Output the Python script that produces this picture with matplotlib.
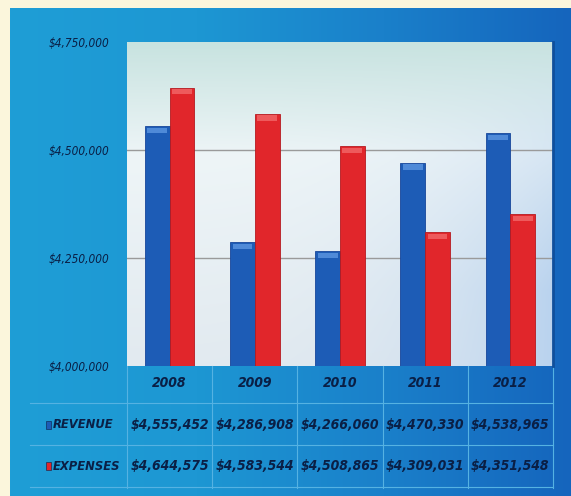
import numpy as np
import matplotlib.pyplot as plt
import matplotlib.transforms as mtransforms
from matplotlib.colors import LinearSegmentedColormap, to_rgb
from matplotlib.patches import Rectangle
from matplotlib.lines import Line2D
from matplotlib.ticker import FuncFormatter

years = ['2008', '2009', '2010', '2011', '2012']
revenue = [4555452, 4286908, 4266060, 4470330, 4538965]
expenses = [4644575, 4583544, 4508865, 4309031, 4351548]
series_names = ['REVENUE', 'EXPENSES']
yticks = [4000000, 4250000, 4500000, 4750000]

plt.rcParams['font.family'] = ['DejaVu Sans']
plt.rcParams['font.stretch'] = 'condensed'

W, H = 571, 496
fig = plt.figure(figsize=(W / 100, H / 100), dpi=100)
fig.patch.set_facecolor('#fbf6dc')

# blue panel behind everything
bg = fig.add_axes([10 / W, 0, 1 - 10 / W, 1 - 8 / H])
cmap_bg = LinearSegmentedColormap.from_list('bg', ['#1f9ed6', '#1d97d3', '#1a80ca', '#1565bd'])
bg.imshow(np.linspace(0, 1, 256)[None, :], aspect='auto', cmap=cmap_bg, extent=[0, 1, 0, 1])
bg.axis('off')

ax = fig.add_axes([127 / W, 130 / H, 426 / W, 324 / H])
x = np.arange(len(years))
w = 0.29

# plot-area gradient: teal at top, pale in the middle, bluish towards the right
ny, nx = 200, 200
t = np.linspace(0, 1, ny)[:, None]
s = np.linspace(0, 1, nx)[None, :]
top = np.array(to_rgb('#c8e3e0'))
mid = np.array(to_rgb('#eef5f7'))
bot = np.array(to_rgb('#e2eaf0'))
blue = np.array(to_rgb('#b5d0ee'))
k1 = np.clip(t / 0.35, 0, 1)[..., None]
k2 = np.clip((t - 0.35) / 0.65, 0, 1)[..., None]
img = np.where(t[..., None] < 0.35, top * (1 - k1) + mid * k1, mid * (1 - k2) + bot * k2)
img = np.broadcast_to(img, (ny, nx, 3)).copy()
kr = (s ** 3)[..., None] * np.clip(t * 1.3, 0, 1)[..., None] * 0.9
img = img * (1 - kr) + blue * kr
ax.imshow(img, extent=[-0.5, 4.5, 4.0e6, 4.75e6], aspect='auto', zorder=0, origin='upper')

for yv in [4250000, 4500000]:
    ax.axhline(yv, color='#9a9a9a', lw=1, zorder=1)

ax.bar(x - w / 2, revenue, w, color='#1d5cb6', edgecolor='#17469a', lw=0.6, zorder=2)
ax.bar(x + w / 2, expenses, w, color='#e1262b', edgecolor='#b51a20', lw=0.6, zorder=2)
# lighter bevel on the bar tops
cap = 12000
ax.bar(x - w / 2, cap, w * 0.8, bottom=np.array(revenue) - cap * 1.3, color='#4f8ad8', lw=0, zorder=3)
ax.bar(x + w / 2, cap, w * 0.8, bottom=np.array(expenses) - cap * 1.3, color='#ee5a5c', lw=0, zorder=3)

ax.set_xlim(-0.5, 4.5)
ax.set_ylim(4000000, 4750000)
ax.set_yticks(yticks)
ax.yaxis.set_major_formatter(FuncFormatter(lambda v, p: '${:,.0f}'.format(v)))
ax.tick_params(axis='y', length=0, pad=13, labelsize=8.5, labelcolor='#0a1f45')
for lab in ax.get_yticklabels():
    lab.set_style('italic')
    lab.set_fontstretch('condensed')
ax.set_xticks([])
for sp in ax.spines.values():
    sp.set_visible(False)
ax.spines['right'].set_visible(True)
ax.spines['right'].set_color('#0f4f9c')
ax.spines['right'].set_linewidth(2)

# data table under the chart
trans = mtransforms.blended_transform_factory(ax.transData, fig.transFigure)
txt = dict(color='#0a1f45', fontsize=10, fontweight='bold', style='italic', ha='center', va='center',
           fontstretch='condensed')
row_y = [1 - 383 / H, 1 - 425 / H, 1 - 466 / H]
for i, yr in enumerate(years):
    ax.text(x[i], row_y[0], yr, transform=trans, clip_on=False, **txt)
    ax.text(x[i], row_y[1], '${:,}'.format(revenue[i]), transform=trans, clip_on=False, **txt)
    ax.text(x[i], row_y[2], '${:,}'.format(expenses[i]), transform=trans, clip_on=False, **txt)

for name, yy, col in zip(series_names, row_y[1:], ['#1d5cb6', '#e1262b']):
    fig.patches.append(Rectangle((46 / W, yy - 4 / H), 5 / W, 8 / H, transform=fig.transFigure,
                                 facecolor=col, edgecolor='#0a1f45', lw=0.4))
    fig.text(53 / W, yy, name, color='#0a1f45', fontsize=9.3, fontweight='bold', style='italic',
             ha='left', va='center', fontstretch='condensed')

lc = '#55b2e2'
for xb in np.arange(-0.5, 5.0, 1.0):
    ax.add_line(Line2D([xb, xb], [8 / H, 130 / H], transform=trans, color=lc, lw=0.8, clip_on=False))
for yb in [403, 445, 487]:
    fig.lines.append(Line2D([30 / W, 553 / W], [1 - yb / H] * 2, transform=fig.transFigure,
                            color=lc, lw=0.8))

fig.savefig('out.png', dpi=100, facecolor=fig.get_facecolor())
